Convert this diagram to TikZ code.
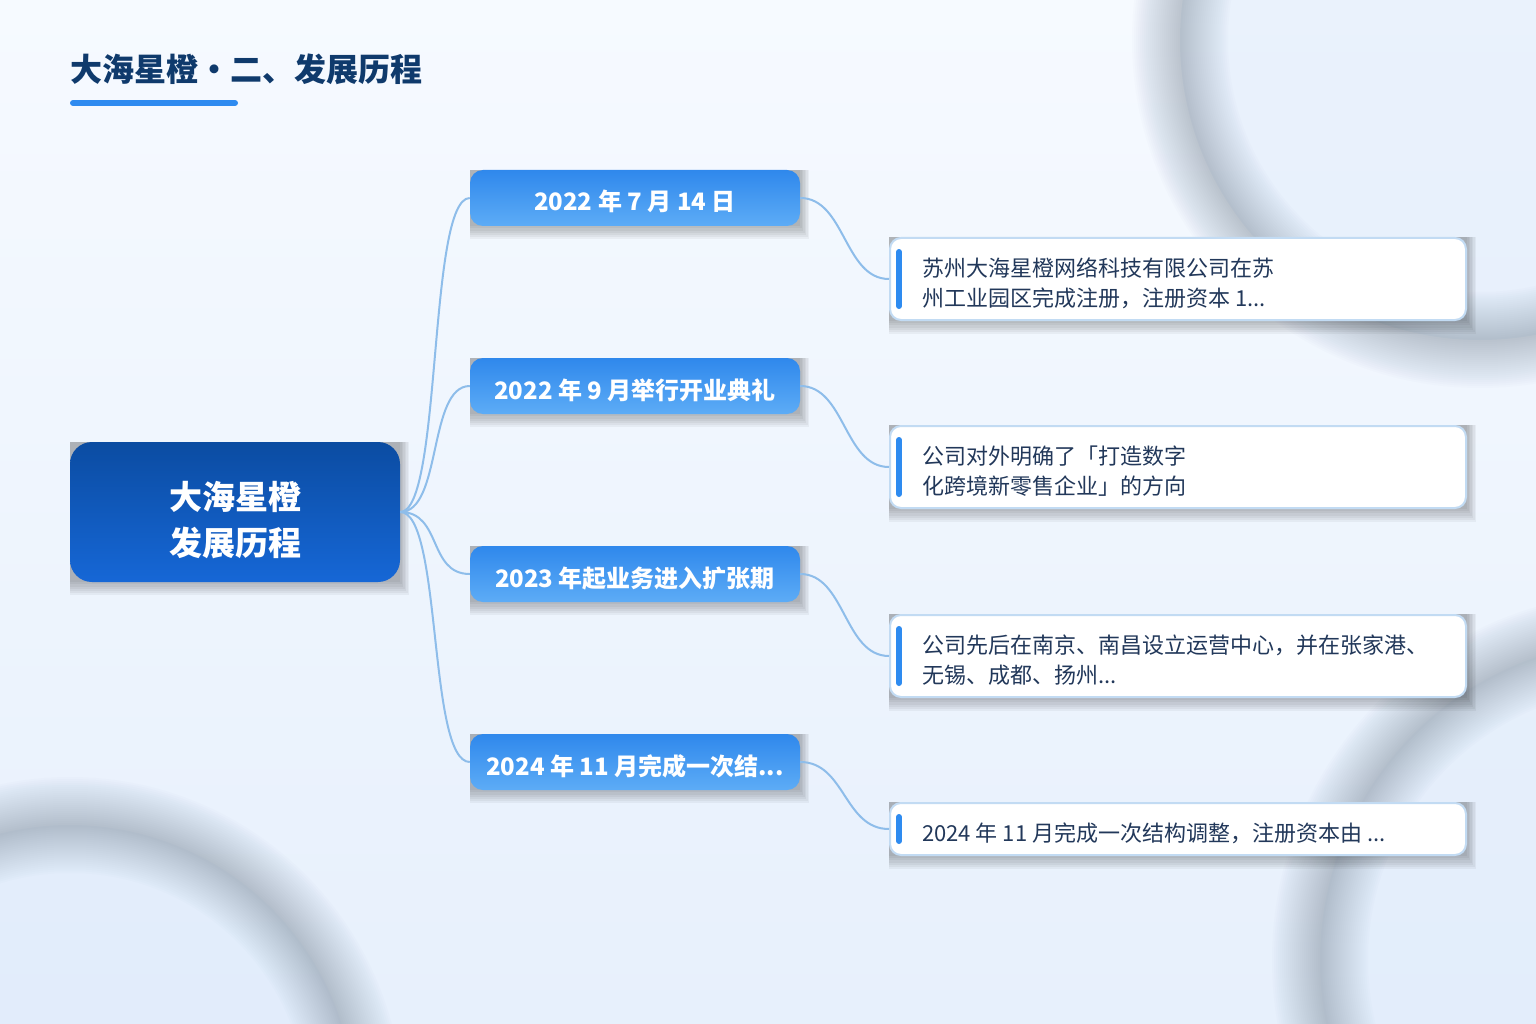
\documentclass[tikz,border=0pt]{standalone}
\usepackage{fontspec}
\setmainfont{Noto Sans CJK SC}
\usetikzlibrary{calc}
\definecolor{bgtop}{HTML}{F6FAFF}
\definecolor{bgbot}{HTML}{E7F0FC}
\definecolor{titlecol}{HTML}{0F3A6C}
\definecolor{accent}{HTML}{2E8BF0}
\definecolor{rootT}{HTML}{0B4CA2}
\definecolor{rootB}{HTML}{1667D6}
\definecolor{brT}{HTML}{2F88EC}
\definecolor{brB}{HTML}{5DACF6}
\definecolor{leafborder}{HTML}{C2DBF3}
\definecolor{leaftextc}{HTML}{22385A}
\definecolor{conncol}{HTML}{8EBDEA}
\definecolor{ringcol}{HTML}{5E6E88}
\definecolor{ringfill}{HTML}{DCE9FA}
\pgfdeclarelayer{bg}
\pgfdeclarelayer{shad}
\pgfsetlayers{bg,shad,main}
\tikzset{
  rootbox/.style={rounded corners=22pt, minimum width=330pt, minimum height=140pt,
    top color=rootT, bottom color=rootB, draw=none, inner sep=0pt},
  rootlabel/.style={text=white, align=center, inner sep=0pt,
    font=\bfseries\fontsize{33}{46}\selectfont},
  branchbox/.style={rounded corners=13pt, minimum width=330pt, minimum height=56pt,
    top color=brT, bottom color=brB, draw=none, text=white, inner sep=0pt,
    font=\bfseries\fontsize{24}{28}\selectfont, text height=28pt, text depth=2pt},
  leafbox/.style={rounded corners=11pt, minimum width=576pt, fill=white,
    draw=leafborder, line width=2pt, inner sep=0pt},
  leaftext/.style={anchor=west, inner sep=0pt, align=left, text=leaftextc,
    font=\fontsize{22}{30}\selectfont},
  conn/.style={draw=conncol, line width=2pt},
  accentbar/.style={draw=accent, line width=6pt, line cap=round},
}
\newcommand\mkshadow[1]{%
  \begin{pgfonlayer}{shad}
    \foreach \i in {0,...,6}{%
      \fill[black,opacity=.042] (#1.north west) rectangle ($(#1.south east)+(1.5*\i,2.2*\i)$);}
  \end{pgfonlayer}}
\begin{document}
\begin{tikzpicture}[x=1pt,y=-1pt]
\useasboundingbox (0,0) rectangle (1536,1024);
\begin{pgfonlayer}{bg}
  \shade[top color=bgtop, bottom color=bgbot] (0,0) rectangle (1536,1024);
  \begin{scope}
    \clip (0,0) rectangle (1536,1024);
    \fill[ringfill, opacity=.45] (1480,40) circle (300pt);
    \fill[ringfill, opacity=.45] (70,1110) circle (285pt);
    \fill[ringfill, opacity=.35] (1640,960) circle (320pt);
    \foreach \w in {96,92,...,4}{%
      \draw[ringcol, opacity=.015, line width=\w pt] (1480,40) circle (300pt);
      \draw[ringcol, opacity=.015, line width=\w pt] (70,1110) circle (285pt);
      \draw[ringcol, opacity=.015, line width=\w pt] (1640,960) circle (320pt);}
  \end{scope}
\end{pgfonlayer}

% title
\node[anchor=base west, inner sep=0pt, text=titlecol,
  font=\bfseries\fontsize{32}{38}\selectfont] (title) at (70,82) {大海星橙・二、发展历程};
\coordinate (ulA) at (73,103);
\coordinate (ulB) at (235,103);
\draw[accentbar] (ulA) -- (ulB);

% root
\node[rootbox] (root) at (235,512) {};
\node[rootlabel] (rootlbl) at (235,520) {大海星橙\\发展历程};
\mkshadow{root}

% branches
\node[branchbox] (b1) at (635,198) {2022 年 7 月 14 日};
\node[branchbox] (b2) at (635,386) {2022 年 9 月举行开业典礼};
\node[branchbox] (b3) at (635,574) {2023 年起业务进入扩张期};
\node[branchbox] (b4) at (635,762) {2024 年 11 月完成一次结...};
\foreach \n in {b1,b2,b3,b4}{\mkshadow{\n}}

% leaves
\node[leafbox, minimum height=82pt] (l1) at (1178,279) {};
\node[leafbox, minimum height=82pt] (l2) at (1178,467) {};
\node[leafbox, minimum height=82pt] (l3) at (1178,656) {};
\node[leafbox, minimum height=52pt] (l4) at (1178,829) {};
\foreach \n in {l1,l2,l3,l4}{%
  \mkshadow{\n}
  \draw[accentbar] ($(\n.north west)+(10,15)$) -- ($(\n.south west)+(10,-15)$);}

\node[leaftext] (t1) at (922,283.5) {苏州大海星橙网络科技有限公司在苏\\州工业园区完成注册，注册资本 1...};
\node[leaftext] (t2) at (922,471.5) {公司对外明确了「打造数字\\化跨境新零售企业」的方向};
\node[leaftext] (t3) at (922,660.5) {公司先后在南京、南昌设立运营中心，并在张家港、\\无锡、成都、扬州...};
\node[leaftext] (t4) at (922,833) {2024 年 11 月完成一次结构调整，注册资本由 ...};

% connectors
\foreach \n in {b1,b2,b3,b4}{%
  \draw[conn] (root.east) .. controls +(42,0) and +(-42,0) .. (\n.west);}
\foreach \a/\b in {b1/l1,b2/l2,b3/l3,b4/l4}{%
  \draw[conn] (\a.east) .. controls +(45,0) and +(-45,0) .. (\b.west);}
\end{tikzpicture}
\end{document}
